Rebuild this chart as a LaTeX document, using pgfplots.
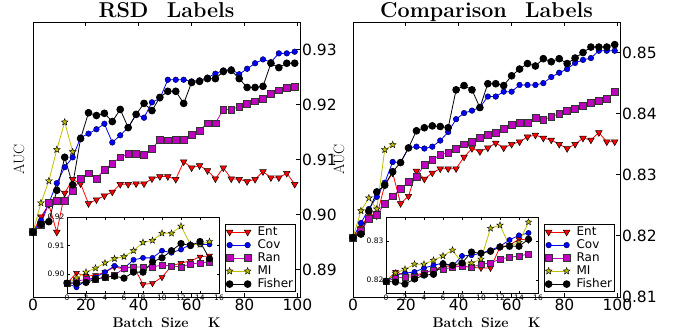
\documentclass[border=0pt]{standalone}
\usepackage{fontspec}
\usepackage{pgfplots}
\usepackage{pgfplotstable}
\pgfplotsset{compat=1.18}
\newfontfamily\dejavu{DejaVu Sans}
\definecolor{mplm}{rgb}{0.75,0,0.75}
\definecolor{mply}{rgb}{0.75,0.75,0}

\pgfdeclareplotmark{fstar}{%
  \pgfpathmoveto{\pgfpointpolar{90}{\pgfplotmarksize}}%
  \pgfpathlineto{\pgfpointpolar{126}{0.42*\pgfplotmarksize}}%
  \pgfpathlineto{\pgfpointpolar{162}{\pgfplotmarksize}}%
  \pgfpathlineto{\pgfpointpolar{198}{0.42*\pgfplotmarksize}}%
  \pgfpathlineto{\pgfpointpolar{234}{\pgfplotmarksize}}%
  \pgfpathlineto{\pgfpointpolar{270}{0.42*\pgfplotmarksize}}%
  \pgfpathlineto{\pgfpointpolar{306}{\pgfplotmarksize}}%
  \pgfpathlineto{\pgfpointpolar{342}{0.42*\pgfplotmarksize}}%
  \pgfpathlineto{\pgfpointpolar{18}{\pgfplotmarksize}}%
  \pgfpathlineto{\pgfpointpolar{54}{0.42*\pgfplotmarksize}}%
  \pgfpathclose
  \pgfusepathqfillstroke}

% ---------------- data ----------------
\pgfplotstableread{
x ent cov ran fisher
0 0.8968 0.8968 0.8968 0.8968
3 0.8996 0.8989 0.8982 0.8982
6 0.9018 0.9021 0.9021 0.8987
9 0.8968 0.9057 0.9025 0.9044
12 0.9039 0.9086 0.9025 0.9104
15 0.9064 0.9104 0.9043 0.9054
18 0.9056 0.9140 0.9065 0.9138
21 0.9020 0.9147 0.9075 0.9185
24 0.9027 0.9155 0.9065 0.9180
27 0.9034 0.9165 0.9082 0.9184
30 0.9041 0.9131 0.9093 0.9169
33 0.9055 0.9144 0.9104 0.9191
36 0.9055 0.9158 0.9111 0.9158
39 0.9056 0.9182 0.9111 0.9182
42 0.9056 0.9176 0.9109 0.9202
45 0.9065 0.9204 0.9120 0.9189
48 0.9069 0.9211 0.9136 0.9213
51 0.9069 0.9245 0.9135 0.9224
54 0.9064 0.9245 0.9136 0.9224
57 0.9096 0.9245 0.9136 0.9202
60 0.9085 0.9242 0.9145 0.9240
63 0.9089 0.9244 0.9153 0.9242
66 0.9080 0.9249 0.9166 0.9247
69 0.9065 0.9256 0.9166 0.9247
72 0.9085 0.9262 0.9191 0.9260
75 0.9065 0.9264 0.9191 0.9262
78 0.9064 0.9255 0.9196 0.9247
81 0.9060 0.9265 0.9202 0.9231
84 0.9064 0.9275 0.9206 0.9231
87 0.9078 0.9282 0.9210 0.9233
90 0.9067 0.9277 0.9220 0.9275
93 0.9067 0.9293 0.9226 0.9267
96 0.9075 0.9293 0.9230 0.9275
99 0.9055 0.9296 0.9233 0.9275
}\LMain
\pgfplotstableread{
x mi
0 0.8968
3 0.9021
6 0.9061
9 0.9118
12 0.9168
15 0.9114
}\LMI
\pgfplotstableread{
x ent cov ran mi fisher
0 0.8968 0.8968 0.8968 0.8968 0.8968
1 0.9004 0.8954 0.8975 0.8986 0.8968
2 0.8993 0.8979 0.8982 0.9007 0.8971
3 0.8996 0.8989 0.8982 0.9021 0.8982
4 0.9007 0.9007 0.8989 0.9039 0.8989
5 0.9025 0.9029 0.8996 0.9054 0.8993
6 0.9018 0.9021 0.9021 0.9061 0.8986
7 0.9029 0.9050 0.9025 0.9082 0.9007
8 0.8964 0.9057 0.9025 0.9111 0.9007
9 0.8968 0.9057 0.9025 0.9118 0.9043
10 0.8989 0.9082 0.9032 0.9143 0.9057
11 0.9029 0.9075 0.9029 0.9143 0.9082
12 0.9039 0.9086 0.9025 0.9168 0.9107
13 0.9046 0.9104 0.9036 0.9104 0.9100
14 0.9061 0.9104 0.9039 0.9104 0.9114
15 0.9064 0.9104 0.9043 0.9114 0.9054
}\LIns

\pgfplotstableread{
x ent cov ran fisher
0 0.8197 0.8197 0.8197 0.8197
3 0.8213 0.8221 0.8208 0.8203
6 0.8236 0.8244 0.8228 0.8241
9 0.8233 0.8264 0.8234 0.8272
12 0.8283 0.8287 0.8253 0.8283
15 0.8303 0.8321 0.8265 0.8305
18 0.8253 0.8320 0.8277 0.8320
21 0.8265 0.8344 0.8288 0.8344
24 0.8306 0.8346 0.8297 0.8372
27 0.8293 0.8343 0.8316 0.8377
30 0.8303 0.8346 0.8324 0.8380
33 0.8310 0.8356 0.8333 0.8379
36 0.8310 0.8370 0.8336 0.8377
39 0.8310 0.8391 0.8342 0.8439
42 0.8329 0.8401 0.8350 0.8446
45 0.8343 0.8405 0.8354 0.8439
48 0.8338 0.8410 0.8361 0.8410
51 0.8344 0.8428 0.8366 0.8449
54 0.8352 0.8428 0.8369 0.8449
57 0.8344 0.8436 0.8375 0.8446
60 0.8350 0.8436 0.8382 0.8462
63 0.8354 0.8447 0.8385 0.8473
66 0.8362 0.8447 0.8385 0.8482
69 0.8365 0.8447 0.8393 0.8478
72 0.8360 0.8450 0.8390 0.8490
75 0.8357 0.8460 0.8395 0.8485
78 0.8350 0.8467 0.8400 0.8490
81 0.8343 0.8473 0.8405 0.8482
84 0.8350 0.8483 0.8408 0.8491
87 0.8360 0.8488 0.8413 0.8500
90 0.8357 0.8491 0.8418 0.8509
93 0.8369 0.8503 0.8421 0.8509
96 0.8354 0.8503 0.8424 0.8509
99 0.8354 0.8503 0.8436 0.8513
}\RMain
\pgfplotstableread{
x mi
0 0.8197
3 0.8241
6 0.8262
9 0.8244
12 0.8341
15 0.8349
}\RMI
\pgfplotstableread{
x ent cov ran mi fisher
0 0.8197 0.8197 0.8197 0.8197 0.8197
1 0.8221 0.8213 0.8205 0.8218 0.8195
2 0.8213 0.8218 0.8208 0.8228 0.8190
3 0.8213 0.8221 0.8208 0.8241 0.8203
4 0.8218 0.8231 0.8218 0.8241 0.8213
5 0.8226 0.8238 0.8226 0.8251 0.8215
6 0.8236 0.8244 0.8228 0.8262 0.8241
7 0.8236 0.8236 0.8233 0.8277 0.8238
8 0.8236 0.8262 0.8236 0.8244 0.8244
9 0.8233 0.8264 0.8233 0.8244 0.8272
10 0.8231 0.8269 0.8241 0.8254 0.8269
11 0.8231 0.8277 0.8244 0.8333 0.8274
12 0.8285 0.8287 0.8254 0.8341 0.8285
13 0.8290 0.8303 0.8259 0.8287 0.8287
14 0.8305 0.8315 0.8262 0.8297 0.8287
15 0.8303 0.8321 0.8267 0.8349 0.8305
}\RIns

\pgfplotsset{
  entstyle/.style={color=red, line width=0.8pt, mark=triangle*, mark size=3.8pt,
     mark options={rotate=180, fill=red, draw=black, line width=0.5pt, solid}},
  covstyle/.style={color=blue, line width=0.8pt, mark=*, mark size=2.8pt,
     mark options={fill=blue, draw=black!70!blue, line width=0.5pt, solid}},
  ranstyle/.style={color=mplm, line width=0.8pt, mark=square*, mark size=3.4pt,
     mark options={fill=mplm, draw=black!80, line width=0.5pt, solid}},
  mistyle/.style={color=mply, line width=0.8pt, mark=fstar, mark size=3.6pt,
     mark options={fill=mply, draw=black, line width=0.4pt, solid}},
  fisherstyle/.style={color=black, line width=0.8pt, mark=*, mark size=3.4pt,
     mark options={fill=black, draw=black, solid}},
  mainax/.style={scale only axis, width=267pt, height=275pt, clip=false,
     xmin=0, xmax=101, xtick={0,20,40,60,80,100},
     xtick pos=both, ytick pos=right, yticklabel pos=right,
     tick align=inside, major tick length=4pt,
     tick style={black, line width=0.8pt},
     axis line style={black, line width=0.9pt},
     tick label style={font=\dejavu\fontsize{15.5}{16}\selectfont, inner sep=2pt},
     /pgf/number format/assume math mode=true,
     scaled y ticks=false,
     y tick label style={/pgf/number format/fixed, /pgf/number format/fixed zerofill, /pgf/number format/precision=2},
     xlabel={\bfseries Batch\hspace{0.6em}Size\hspace{1.4em}K},
     xlabel style={font=\fontsize{14}{15}\selectfont, at={(axis description cs:0.5,0)}, anchor=base, yshift=-30pt},
     ylabel={AUC},
     ylabel style={font=\fontsize{15}{17}\selectfont, at={(axis description cs:-0.0524,0.5)}, anchor=center},
     every axis title shift=0pt,
     title style={font=\fontsize{21.5}{24}\selectfont, at={(axis description cs:0.5,1)}, anchor=base, yshift=4.5pt},
     legend cell align=left,
     legend style={at={(axis description cs:1,0)}, anchor=south east, xshift=-4pt, yshift=5pt,
        font=\dejavu\fontsize{12}{13}\selectfont, draw=black, line width=0.8pt, fill=white,
        inner sep=1pt, column sep=5pt,
        nodes={inner sep=1.5pt, text height=8.5pt, text depth=1.5pt}},
     legend image code/.code={\draw[#1] plot coordinates {(0pt,0pt) (18pt,0pt)};},
  },
  insetax/.style={scale only axis, width=152pt, height=76pt, clip=false,
     xmin=0, xmax=16, xtick={0,2,...,16},
     tick align=inside, major tick length=2.5pt,
     tick style={black, line width=0.6pt},
     axis line style={black, line width=0.8pt},
     tick label style={font=\dejavu\fontsize{7.5}{8}\selectfont, inner sep=1.5pt},
     /pgf/number format/assume math mode=true,
     scaled y ticks=false,
     y tick label style={/pgf/number format/fixed, /pgf/number format/fixed zerofill, /pgf/number format/precision=2, xshift=-1pt},
     axis background/.style={fill=white},
  },
}

\begin{document}
\begin{tikzpicture}
\path[use as bounding box] (0,0) rectangle (685pt,333pt);

% ---------- left inset ----------
\begin{axis}[insetax, at={(67pt,40pt)}, anchor=south west,
  ymin=0.8934, ymax=0.920, ytick={0.90,0.91,0.92}]
\addplot[entstyle, mark size=3.4pt] table[x=x,y=ent]{\LIns};
\addplot[covstyle, mark size=2.6pt] table[x=x,y=cov]{\LIns};
\addplot[ranstyle, mark size=3.1pt] table[x=x,y=ran]{\LIns};
\addplot[mistyle, mark size=3.4pt] table[x=x,y=mi]{\LIns};
\addplot[fisherstyle, mark size=3.2pt] table[x=x,y=fisher]{\LIns};
\end{axis}

% ---------- left main ----------
\begin{axis}[mainax, at={(33pt,36pt)}, anchor=south west,
  ymin=0.885, ymax=0.935, ytick={0.89,0.90,0.91,0.92,0.93},
  title={\bfseries RSD\hspace{0.85em}Labels}]
\addplot[entstyle] table[x=x,y=ent]{\LMain}; \addlegendentry{Ent}
\addplot[covstyle] table[x=x,y=cov]{\LMain}; \addlegendentry{Cov}
\addplot[ranstyle] table[x=x,y=ran]{\LMain}; \addlegendentry{Ran}
\addplot[mistyle] table[x=x,y=mi]{\LMI}; \addlegendentry{MI}
\addplot[fisherstyle] table[x=x,y=fisher]{\LMain}; \addlegendentry{Fisher}
\end{axis}

% ---------- right inset ----------
\begin{axis}[insetax, at={(386pt,40pt)}, anchor=south west,
  ymin=0.8167, ymax=0.8362, ytick={0.82,0.83}]
\addplot[entstyle, mark size=3.4pt] table[x=x,y=ent]{\RIns};
\addplot[covstyle, mark size=2.6pt] table[x=x,y=cov]{\RIns};
\addplot[ranstyle, mark size=3.1pt] table[x=x,y=ran]{\RIns};
\addplot[mistyle, mark size=3.4pt] table[x=x,y=mi]{\RIns};
\addplot[fisherstyle, mark size=3.2pt] table[x=x,y=fisher]{\RIns};
\end{axis}

% ---------- right main ----------
\begin{axis}[mainax, at={(353pt,36pt)}, anchor=south west,
  ymin=0.81, ymax=0.855, ytick={0.81,0.82,0.83,0.84,0.85},
  legend style={xshift=-1pt},
  title={\bfseries Comparison\hspace{0.85em}Labels}]
\addplot[entstyle] table[x=x,y=ent]{\RMain}; \addlegendentry{Ent}
\addplot[covstyle] table[x=x,y=cov]{\RMain}; \addlegendentry{Cov}
\addplot[ranstyle] table[x=x,y=ran]{\RMain}; \addlegendentry{Ran}
\addplot[mistyle] table[x=x,y=mi]{\RMI}; \addlegendentry{MI}
\addplot[fisherstyle] table[x=x,y=fisher]{\RMain}; \addlegendentry{Fisher}
\end{axis}
\end{tikzpicture}
\end{document}
